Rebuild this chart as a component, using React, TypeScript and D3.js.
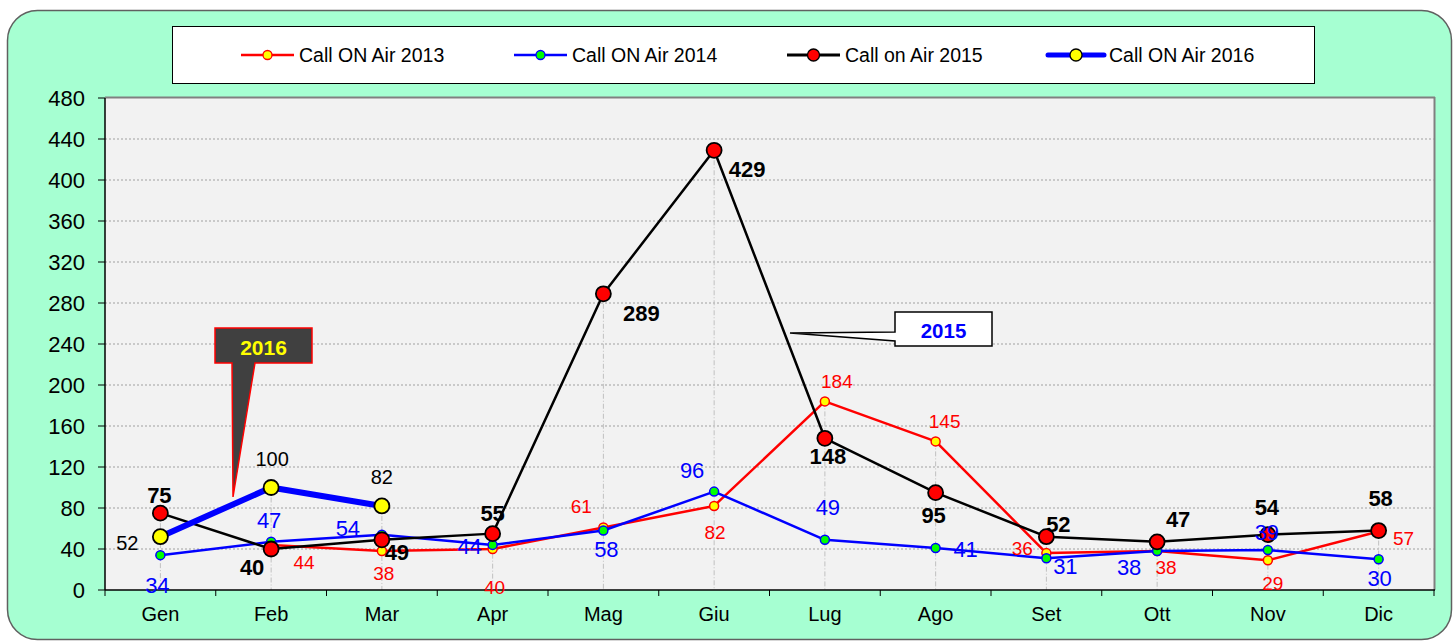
import React from "react";
import * as d3 from "d3";

// ---------- DATA ----------
const months = ["Gen", "Feb", "Mar", "Apr", "Mag", "Giu", "Lug", "Ago", "Set", "Ott", "Nov", "Dic"];
const yTicks = [0, 40, 80, 120, 160, 200, 240, 280, 320, 360, 400, 440, 480];
const seriesNames = ["Call ON Air 2013", "Call ON Air 2014", "Call on Air 2015", "Call ON Air 2016"];
const values2013: (number | null)[] = [null, 44, 38, 40, 61, 82, 184, 145, 36, 38, 29, 57];
const values2014: (number | null)[] = [34, 47, 54, 44, 58, 96, 49, 41, 31, 38, 39, 30];
const values2015: (number | null)[] = [75, 40, 49, 55, 289, 429, 148, 95, 52, 47, 54, 58];
const values2016: (number | null)[] = [52, 100, 82, null, null, null, null, null, null, null, null, null];
const callout2016 = "2016";
const callout2015 = "2015";

// ---------- LAYOUT (label offsets from their point) ----------
const off2013 = [[0, 0], [33, 18], [2, 22], [2, 38], [-22, -21], [1, 27], [12, -20], [9, -20], [-24, -5], [9, 16], [5, 23], [25, 7]];
const off2014 = [[-3, 30], [-2, -21], [-34, -6], [-23, 2], [3, 19], [-22, -21], [3, -32], [30, 2], [19, 8], [-28, 16], [-1, -18], [1, 19]];
const off2015 = [[-1, -18], [-19, 18], [15, 13], [0, -20], [38, 20], [33, 19], [3, 18], [-2, 23], [12, -12], [21, -22], [-1, -27], [2, -32]];
const off2016 = [[-33, 6], [1, -29], [0, -29]];

const FONT = "'Liberation Sans', Arial, sans-serif";

const W = 1455, H = 641;
const plot = { left: 105, right: 1434, top: 98, bottom: 590 };

export default function App() {
  const x = d3.scaleBand<string>().domain(months).range([plot.left, plot.right]).padding(0);
  const cx = (i: number) => (x(months[i]) as number) + x.bandwidth() / 2;
  const y = d3.scaleLinear().domain([0, 480]).range([plot.bottom, plot.top]);

  const line = d3
    .line<number | null>()
    .defined((d) => d !== null)
    .x((_, i) => cx(i))
    .y((d) => y(d as number));

  const series = [
    { name: seriesNames[0], vals: values2013, stroke: "#FF0000", width: 2.5, r: 4.5, fill: "#FFFF00", mStroke: "#FF0000", mW: 1.5, offs: off2013, lColor: "#FF0000", lSize: 19, lWeight: "normal", legW: 2.5, legR: 4.5 },
    { name: seriesNames[1], vals: values2014, stroke: "#0000FF", width: 2.5, r: 4.5, fill: "#00FF00", mStroke: "#0000FF", mW: 1.5, offs: off2014, lColor: "#0000FF", lSize: 22, lWeight: "normal", legW: 2.5, legR: 4.5 },
    { name: seriesNames[2], vals: values2015, stroke: "#000000", width: 2.5, r: 7.5, fill: "#FF0000", mStroke: "#000000", mW: 1.8, offs: off2015, lColor: "#000000", lSize: 22, lWeight: "bold", legW: 3, legR: 6 },
    { name: seriesNames[3], vals: values2016, stroke: "#0000FF", width: 6, r: 7.5, fill: "#FFFF00", mStroke: "#000000", mW: 1.8, offs: off2016, lColor: "#000000", lSize: 20, lWeight: "normal", legW: 5, legR: 6 },
  ];

  const maxes = months.map((_, i) => d3.max(series.map((s) => s.vals[i] as number).filter((v) => v !== null && v !== undefined)) as number);

  const legendX = [241, 514, 787, 1048];
  const legendLen = [53, 53, 53, 56];
  const legendY = 55;

  return (
    <svg width={W} height={H} style={{ position: "absolute", left: 0, top: 0, fontFamily: FONT }}>
      <rect x={0} y={0} width={W} height={H} fill="#ffffff" />
      <rect x={7.5} y={10.5} width={1444} height={629} rx={30} ry={30} fill="#A6FFD2" stroke="#606060" strokeWidth={1.5} />

      {/* Legend */}
      <rect x={172.5} y={26.5} width={1142} height={57} fill="#ffffff" stroke="#000" strokeWidth={1} />
      {series.map((s, i) => (
        <g key={s.name}>
          <line x1={legendX[i]} x2={legendX[i] + legendLen[i]} y1={legendY} y2={legendY} stroke={s.stroke} strokeWidth={s.legW} strokeLinecap={s.width === 6 ? "round" : "butt"} />
          <circle cx={legendX[i] + legendLen[i] / 2} cy={legendY} r={s.legR} fill={s.fill} stroke={s.mStroke} strokeWidth={1.3} />
          <text x={legendX[i] + legendLen[i] + 5} y={legendY} dominantBaseline="central" fontSize={19.5} fill="#000">{s.name}</text>
        </g>
      ))}

      {/* Plot area */}
      <rect x={plot.left} y={plot.top} width={plot.right - plot.left} height={plot.bottom - plot.top} fill="#F2F2F2" />
      <line x1={plot.left} x2={plot.right + 1} y1={plot.top - 0.5} y2={plot.top - 0.5} stroke="#808080" strokeWidth={2} />
      <line x1={plot.right + 0.5} x2={plot.right + 0.5} y1={plot.top - 1} y2={plot.bottom} stroke="#808080" strokeWidth={2} />

      {/* gridlines */}
      {yTicks.filter((t) => t > 0 && t < 480).map((t) => (
        <line key={t} x1={plot.left} x2={plot.right} y1={y(t)} y2={y(t)} stroke="#A0A0A0" strokeWidth={1} strokeDasharray="2,2" />
      ))}

      {/* drop lines */}
      {months.map((m, i) => (
        <line key={m} x1={cx(i)} x2={cx(i)} y1={y(maxes[i])} y2={plot.bottom} stroke="#C0C0C0" strokeWidth={1} strokeDasharray="5,2,1,2" />
      ))}

      {/* axes */}
      <line x1={plot.left} x2={plot.left} y1={plot.top} y2={plot.bottom} stroke="#000" strokeWidth={1.5} />
      <line x1={plot.left} x2={plot.right + 1} y1={plot.bottom} y2={plot.bottom} stroke="#000" strokeWidth={1.5} />
      {yTicks.map((t) => (
        <g key={t}>
          <line x1={plot.left - 7} x2={plot.left} y1={y(t)} y2={y(t)} stroke="#000" strokeWidth={1} />
          <text x={85} y={y(t)} textAnchor="end" dominantBaseline="central" fontSize={22} fill="#000">{t}</text>
        </g>
      ))}
      {d3.range(months.length + 1).map((i) => {
        const xx = i < months.length ? (x(months[i]) as number) : plot.right;
        return <line key={i} x1={xx} x2={xx} y1={plot.bottom} y2={plot.bottom + 6} stroke="#000" strokeWidth={1} />;
      })}
      {months.map((m, i) => (
        <text key={m} x={cx(i)} y={614} textAnchor="middle" dominantBaseline="central" fontSize={20} fill="#000">{m}</text>
      ))}

      {/* series lines & markers */}
      {series.map((s) => (
        <g key={s.name}>
          <path d={line(s.vals) || ""} fill="none" stroke={s.stroke} strokeWidth={s.width} strokeLinejoin="round" />
          {s.vals.map((v, i) =>
            v === null ? null : (
              <circle key={i} cx={cx(i)} cy={y(v)} r={s.r} fill={s.fill} stroke={s.mStroke} strokeWidth={s.mW} />
            )
          )}
        </g>
      ))}

      {/* callout 2016 */}
      <g>
        <path d={`M215,328 H312 V363 H255 L233,497 L232,363 H215 Z`} fill="#404040" stroke="#FF0000" strokeWidth={1.5} strokeLinejoin="miter" />
        <text x={263.5} y={347} textAnchor="middle" dominantBaseline="central" fontSize={21} fontWeight="bold" fill="#FFFF00">{callout2016}</text>
      </g>

      {/* callout 2015 */}
      <g>
        <path d={`M895,312 H992 V346 H895 V341 L790,333 L895,332 Z`} fill="#ffffff" stroke="#000" strokeWidth={1.5} />
        <text x={943.5} y={330} textAnchor="middle" dominantBaseline="central" fontSize={20.5} fontWeight="bold" fill="#0000FF">{callout2015}</text>
      </g>

      {/* data labels */}
      {series.map((s) => (
        <g key={s.name + "-lbl"}>
          {s.vals.map((v, i) =>
            v === null ? null : (
              <text key={i} x={cx(i) + s.offs[i][0]} y={y(v) + s.offs[i][1]} textAnchor="middle" dominantBaseline="central" fontSize={s.lSize} fontWeight={s.lWeight} fill={s.lColor}>
                {v}
              </text>
            )
          )}
        </g>
      ))}
    </svg>
  );
}
